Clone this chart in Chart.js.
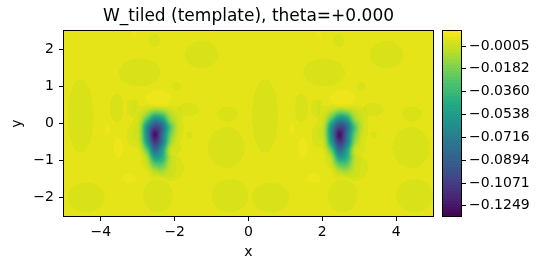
<!DOCTYPE html>
<html>
<head>
<meta charset="utf-8">
<script src="https://cdn.jsdelivr.net/npm/chart.js@4.4.1/dist/chart.umd.min.js"></script>
<style>
  html, body { margin: 0; padding: 0; background: #fff; }
</style>
</head>
<body>
<canvas id="chart" width="544" height="261"></canvas>
<script>
// --- data ---
const titleText = 'W_tiled (template), theta=+0.000';
const xTicks = [-4, -2, 0, 2, 4];
const yTicks = [-2, -1, 0, 1, 2];
const cbTicks = [-0.0005, -0.0182, -0.0360, -0.0538, -0.0716, -0.0894, -0.1071, -0.1249];
const cbLabels = ['\u22120.0005', '\u22120.0182', '\u22120.0360', '\u22120.0538',
                  '\u22120.0716', '\u22120.0894', '\u22120.1071', '\u22120.1249'];
const vmin = -0.1331;
const vmax = 0.0108;

// the template is tiled twice along x (period 5)
const tileShifts = [0, 5];
const bgValue = 0.004;
const blobCenter = [-2.54, -0.3];

// blob samples, columns = dx, rows = dy (relative to blobCenter)
const patchDx = [-0.8, -0.6, -0.4, -0.2, 0, 0.2, 0.4, 0.6, 0.8];
const patchDy = [1.2, 1.0, 0.8, 0.6, 0.4, 0.2, 0, -0.2, -0.4, -0.6, -0.8, -1.0, -1.2];
const B = bgValue;
const patch = [
  [B, B, B, 0.005, 0.006, 0.006, 0.005, B, B],
  [B, B, B, 0.0065, 0.0075, 0.0075, 0.0065, B, B],
  [B, 0.002, B, 0.004, 0.005, 0.005, 0.004, B, B],
  [B, 0.002, 0.001, -0.008, -0.022, -0.018, -0.005, 0.001, B],
  [B, B, -0.003, -0.034, -0.068, -0.058, -0.016, -0.002, B],
  [B, 0.002, -0.008, -0.066, -0.104, -0.088, -0.034, -0.004, B],
  [B, 0.001, -0.008, -0.07, -0.127, -0.082, -0.026, -0.002, B],
  [B, 0.002, -0.005, -0.058, -0.11, -0.078, -0.018, 0.001, B],
  [B, B, 0.001, -0.03, -0.085, -0.055, -0.005, 0.002, B],
  [B, B, B, -0.01, -0.056, -0.044, -0.005, B, B],
  [B, B, B, -0.002, -0.026, -0.024, -0.002, B, B],
  [B, B, B, B, -0.005, -0.006, 0.001, B, B],
  [B, B, B, B, B, B, B, B, B]
];

// slightly lower (light green) spots in one tile: cx, cy, rx, ry
const lowValue = 0.0015;
const lowSpots = [
  [-2.95, 1.38, 0.57, 0.38],
  [-1.27, 1.86, 0.45, 0.37],
  [-4.55, 0.2, 0.35, 1.0],
  [-3.57, 0.42, 0.18, 0.38],
  [-1.62, 0.38, 0.28, 0.18],
  [-0.57, 0.25, 0.28, 0.2],
  [-0.6, -0.65, 0.5, 0.55],
  [-4.4, -2.0, 0.5, 0.4],
  [-2.1, -1.2, 0.35, 0.35],
  [-2.45, -1.95, 0.4, 0.45],
  [-0.5, -1.95, 0.5, 0.45],
  [-2.55, 2.25, 0.15, 0.18],
  [-1.95, 1.0, 0.12, 0.12],
  [-3.1, 0.42, 0.05, 0.18],
  [-1.6, -0.32, 0.08, 0.1]
];
// slightly higher (bright yellow) spots
const highValue = 0.0065;
const highSpots = [
  [-3.83, -0.13, 0.07, 0.14],
  [-3.53, -0.66, 0.12, 0.26],
  [-3.23, -1.48, 0.18, 0.13],
  [-3.1, 2.42, 0.07, 0.08]
];

// viridis colour stops
const viridis = [
  [0.0, 68, 1, 84], [0.05, 71, 19, 101], [0.1, 72, 36, 117], [0.125, 71, 45, 123],
  [0.2, 65, 68, 135], [0.25, 59, 82, 139], [0.3, 53, 95, 141], [0.375, 44, 114, 142],
  [0.4, 42, 120, 142], [0.5, 33, 145, 140], [0.6, 34, 168, 132], [0.625, 40, 174, 128],
  [0.7, 68, 191, 112], [0.75, 94, 201, 98], [0.8, 122, 209, 81], [0.85, 158, 217, 57],
  [0.875, 173, 220, 48], [0.9, 189, 223, 38], [0.925, 206, 225, 28], [0.95, 223, 227, 24],
  [0.975, 238, 229, 27], [1.0, 253, 231, 37]
];
const nLevels = 60;

function colorAt(v) {
  let q = Math.floor((v - vmin) / (vmax - vmin) * nLevels);
  q = Math.max(0, Math.min(nLevels - 1, q));
  const t = (q + 0.5) / nLevels;
  for (let i = 1; i < viridis.length; i++) {
    if (t <= viridis[i][0]) {
      const a = viridis[i - 1], b = viridis[i];
      const f = (t - a[0]) / (b[0] - a[0]);
      return [a[1] + (b[1] - a[1]) * f, a[2] + (b[2] - a[2]) * f, a[3] + (b[3] - a[3]) * f];
    }
  }
  return viridis[viridis.length - 1].slice(1);
}

function inSpot(x, y, s) {
  const dx = (x - s[0]) / s[2], dy = (y - s[1]) / s[3];
  return dx * dx + dy * dy < 1;
}

// Catmull-Rom weights for smooth rendering between samples
function cr(p0, p1, p2, p3, t) {
  return 0.5 * (2 * p1 + (-p0 + p2) * t + (2 * p0 - 5 * p1 + 4 * p2 - p3) * t * t +
         (-p0 + 3 * p1 - 3 * p2 + p3) * t * t * t);
}

function cell(j, i) {
  j = Math.max(0, Math.min(patchDy.length - 1, j));
  i = Math.max(0, Math.min(patchDx.length - 1, i));
  return patch[j][i];
}

function patchDelta(dx, dy) {
  const step = 0.2;
  const fx = (dx - patchDx[0]) / step;
  const fy = (patchDy[0] - dy) / step;
  if (fx < 0 || fy < 0 || fx > patchDx.length - 1 || fy > patchDy.length - 1) return 0;
  const i = Math.min(patchDx.length - 2, Math.floor(fx));
  const j = Math.min(patchDy.length - 2, Math.floor(fy));
  const u = fx - i, w = fy - j;
  const rows = [];
  for (let r = -1; r <= 2; r++) {
    rows.push(cr(cell(j + r, i - 1), cell(j + r, i), cell(j + r, i + 1), cell(j + r, i + 2), u));
  }
  return cr(rows[0], rows[1], rows[2], rows[3], w) - bgValue;
}

function fieldAt(x, y) {
  let v = bgValue;
  let delta = 0;
  for (const shift of tileShifts) {
    const lx = x - shift;
    for (const s of lowSpots) if (inSpot(lx, y, s)) v = lowValue;
    for (const s of highSpots) if (inSpot(lx, y, s)) v = highValue;
    delta += patchDelta(lx - blobCenter[0], y - blobCenter[1]);
  }
  return v + delta;
}

const heatmapPlugin = {
  id: 'heatmap',
  beforeDatasetsDraw(chart) {
    const ctx = chart.ctx;
    const xs = chart.scales.x, ys = chart.scales.y, cb = chart.scales.cb;
    const a = chart.chartArea;
    const x0 = Math.round(a.left), y0 = Math.round(a.top);
    const w = Math.round(a.right) - x0, h = Math.round(a.bottom) - y0;
    const img = ctx.createImageData(w, h);
    for (let j = 0; j < h; j++) {
      const y = ys.getValueForPixel(y0 + j + 0.5);
      for (let i = 0; i < w; i++) {
        const x = xs.getValueForPixel(x0 + i + 0.5);
        const c = colorAt(fieldAt(x, y));
        const k = (j * w + i) * 4;
        img.data[k] = c[0]; img.data[k + 1] = c[1]; img.data[k + 2] = c[2]; img.data[k + 3] = 255;
      }
    }
    ctx.putImageData(img, x0, y0);

    // colour bar
    const cbLeft = 443, cbRight = 461;
    for (let py = Math.round(cb.top); py < Math.round(cb.bottom); py++) {
      const c = colorAt(cb.getValueForPixel(py + 0.5));
      ctx.fillStyle = `rgb(${c[0]},${c[1]},${c[2]})`;
      ctx.fillRect(cbLeft, py, cbRight - cbLeft, 1);
    }
  },
  afterDraw(chart) {
    const ctx = chart.ctx;
    const a = chart.chartArea;
    const cb = chart.scales.cb;
    ctx.save();
    ctx.strokeStyle = '#000';
    ctx.lineWidth = 1;
    ctx.strokeRect(Math.round(a.left) - 0.5, Math.round(a.top) - 0.5,
                   Math.round(a.right) - Math.round(a.left) + 1, Math.round(a.bottom) - Math.round(a.top) + 1);
    const cbLeft = 443, cbRight = 461;
    ctx.strokeRect(cbLeft - 0.5, Math.round(cb.top) - 0.5, cbRight - cbLeft + 1, Math.round(cb.bottom) - Math.round(cb.top) + 1);
    ctx.fillStyle = '#000';
    ctx.font = '14px "DejaVu Sans"';
    ctx.textAlign = 'left';
    ctx.textBaseline = 'middle';
    cbTicks.forEach((v, i) => {
      const py = Math.round(cb.getPixelForValue(v)) + 0.5;
      ctx.beginPath();
      ctx.moveTo(cbRight + 0.5, py);
      ctx.lineTo(cbRight + 5, py);
      ctx.stroke();
      ctx.fillText(cbLabels[i], cbRight + 8, py);
    });
    ctx.restore();
  }
};

const fmt = v => (v < 0 ? '\u2212' + Math.abs(v) : String(v));

Chart.defaults.font.family = '"DejaVu Sans", sans-serif';
Chart.defaults.color = '#000';

new Chart(document.getElementById('chart'), {
  type: 'scatter',
  data: { datasets: [] },
  plugins: [heatmapPlugin],
  options: {
    responsive: false,
    animation: false,
    layout: { padding: { left: 0, right: 111, top: 0, bottom: 0 } },
    plugins: {
      legend: { display: false },
      tooltip: { enabled: false },
      title: {
        display: true,
        text: titleText,
        fullSize: false,
        color: '#000',
        font: { size: 17, weight: 'normal' },
        padding: { top: 6, bottom: 4.6 }
      }
    },
    scales: {
      x: {
        type: 'linear',
        position: 'bottom',
        min: -5,
        max: 5,
        afterBuildTicks: s => { s.ticks = xTicks.map(v => ({ value: v })); },
        afterFit: s => { s.height = 45; },
        ticks: { font: { size: 14 }, color: '#000', padding: 3, maxRotation: 0, autoSkip: false, callback: fmt },
        grid: { drawOnChartArea: false, drawTicks: true, tickLength: 5, color: '#000' },
        border: { display: true, color: '#000', width: 1 },
        title: { display: true, text: 'x', font: { size: 14 }, color: '#000', padding: { top: 0, bottom: 0 } }
      },
      y: {
        type: 'linear',
        position: 'left',
        min: -2.5,
        max: 2.5,
        afterBuildTicks: s => { s.ticks = yTicks.map(v => ({ value: v })); },
        afterFit: s => { s.width = 64; },
        ticks: { font: { size: 14 }, color: '#000', padding: 5, autoSkip: false, callback: fmt },
        grid: { drawOnChartArea: false, drawTicks: true, tickLength: 5, color: '#000' },
        border: { display: true, color: '#000', width: 1 },
        title: { display: true, text: 'y', font: { size: 14 }, color: '#000', padding: { top: 9, bottom: 0 } }
      },
      cb: {
        type: 'linear',
        position: 'right',
        display: false,
        min: vmin,
        max: vmax
      }
    }
  }
});
</script>
</body>
</html>
